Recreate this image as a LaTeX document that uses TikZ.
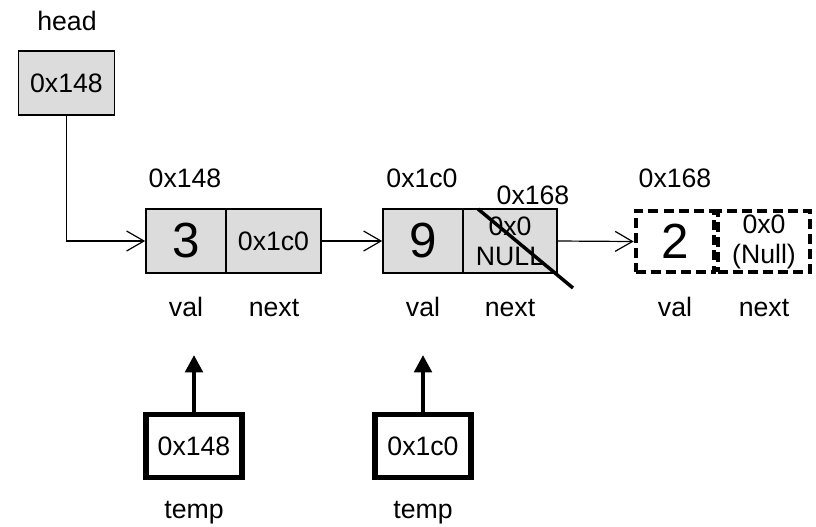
\documentclass[tikz,border=0pt]{standalone}
\usepackage{fontspec}
\setmainfont{Liberation Sans}
\usetikzlibrary{arrows.meta}
\definecolor{cellgray}{RGB}{220,220,220}
\tikzset{
  txt/.style={font=\fontsize{20}{22.5}\selectfont, inner sep=0pt, align=center},
  lbl/.style={txt, anchor=base},
  cell/.style={draw, line width=1.3pt, fill=cellgray, minimum height=48pt, inner sep=0pt,
    font=\fontsize{20}{22.5}\selectfont, align=center},
  dcell/.style={draw, line width=3pt, dash pattern=on 7.5pt off 3.8pt, fill=white,
    minimum height=46pt, inner sep=0pt, font=\fontsize{20}{22.5}\selectfont, align=center},
  big/.style={font=\fontsize{37}{40}\selectfont},
  tempbox/.style={draw, line width=4pt, fill=white, minimum width=72pt, minimum height=47pt,
    inner sep=0pt, font=\fontsize{20}{22.5}\selectfont},
  link/.style={line width=0.9pt, -{Straight Barb[length=13pt,width=15pt,line width=0.9pt]}},
  tlink/.style={line width=3pt, -{Triangle[length=13pt,width=13pt]}}
}
\begin{document}
\begin{tikzpicture}[x=0.75pt,y=-0.75pt]
\useasboundingbox (0,0) rectangle (816,526);

% head pointer
\node[lbl] (headlbl) at (67,30) {head};
\node[cell, minimum width=72pt, minimum height=48pt] (head) at (66.5,83) {0x148};

% first node
\node[txt] (a1) at (185,178) {0x148};
\node[cell, minimum width=60pt, big] (n1v) at (186,241) {3};
\node[cell, minimum width=71pt] (n1n) at (273.5,241) {0x1c0};
\node[lbl] (v1) at (186,316) {val};
\node[lbl] (x1) at (274,316) {next};

% second node
\node[txt] (a2) at (422,178) {0x1c0};
\node[cell, minimum width=60pt, big] (n2v) at (423,241) {9};
\node[cell, minimum width=70.5pt] (n2n) at (510,241) {0x0\\NULL};
\node[txt] (a2b) at (533,195) {0x168};
\node[lbl] (v2) at (423,316) {val};
\node[lbl] (x2) at (510,316) {next};

% third node (new)
\node[txt] (a3) at (675,178) {0x168};
\node[dcell, minimum width=59pt, big] (n3v) at (675,241.5) {2};
\node[dcell, minimum width=69pt] (n3n) at (764,241.5) {0x0\\(Null)};
\node[lbl] (v3) at (675,316) {val};
\node[lbl] (x3) at (764,316) {next};

% strike through the old next value
\coordinate (s1) at (478,209);
\coordinate (s2) at (573,288);
\draw[line width=2.6pt] (s1) -- (s2);

% links
\draw[link] (head.south) |- (n1v.west);
\draw[link] (n1n.east) -- (n2v.west);
\draw[link] (n2n.east) -- (n3v.west);

% temp pointers
\node[tempbox] (t1) at (194,446) {0x148};
\node[tempbox] (t2) at (423,446) {0x1c0};
\node[lbl] (tl1) at (194,518) {temp};
\node[lbl] (tl2) at (423,518) {temp};
\coordinate (t1tip) at (194,355);
\coordinate (t2tip) at (423,355);
\draw[tlink] (t1.north) -- (t1tip);
\draw[tlink] (t2.north) -- (t2tip);
\end{tikzpicture}
\end{document}
